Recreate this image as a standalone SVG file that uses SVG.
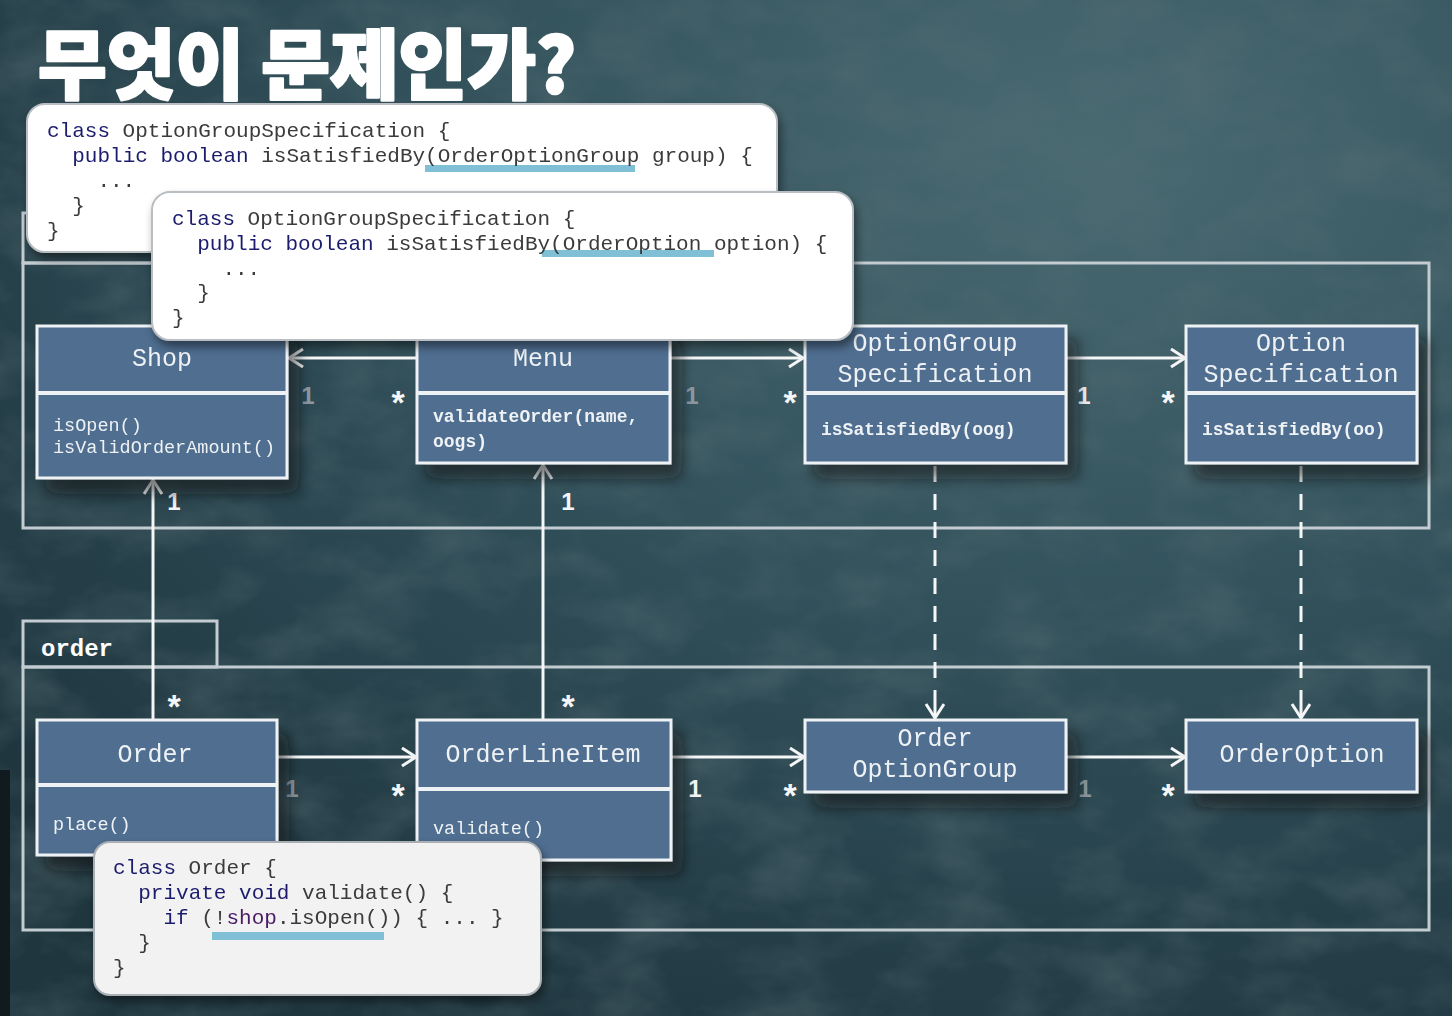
<svg xmlns="http://www.w3.org/2000/svg" width="1452" height="1016" viewBox="0 0 1452 1016">
<defs>
  <radialGradient id="bg" cx="0.75" cy="0.15" r="0.95">
    <stop offset="0" stop-color="#4a6a72"/>
    <stop offset="0.5" stop-color="#31505a"/>
    <stop offset="1" stop-color="#1f363f"/>
  </radialGradient>
  <filter id="tex" x="0" y="0" width="100%" height="100%">
    <feTurbulence type="fractalNoise" baseFrequency="0.012 0.02" numOctaves="4" seed="3"/>
    <feColorMatrix type="matrix" values="0 0 0 0 0.1  0 0 0 0 0.16  0 0 0 0 0.18  0 0 0 1.4 -0.55"/>
  </filter>
  <filter id="sh" x="-20%" y="-20%" width="150%" height="160%">
    <feDropShadow dx="10" dy="14" stdDeviation="7" flood-color="#0a1418" flood-opacity="0.55"/>
  </filter>
  <filter id="shc" x="-10%" y="-20%" width="130%" height="150%">
    <feDropShadow dx="3" dy="6" stdDeviation="5" flood-color="#000" flood-opacity="0.45"/>
  </filter>
  <marker id="arr" markerUnits="userSpaceOnUse" markerWidth="20" markerHeight="22" refX="15" refY="10" orient="auto">
    <path d="M1,1 L15,10 L1,19" fill="none" stroke="#f4f6f7" stroke-width="3" stroke-linejoin="miter"/>
  </marker>
  <style>
    .pkg{fill:none;stroke:#c3ccd1;stroke-width:3}
    .node rect.box{fill:#4f6e90;stroke:#eef2f4;stroke-width:3}
    .div{stroke:#eef2f4;stroke-width:4}
    .ttl{font-family:"Liberation Mono","DejaVu Sans Mono",monospace;font-size:25px;fill:#eef2f5;text-anchor:middle}
    .mth{font-family:"Liberation Mono","DejaVu Sans Mono",monospace;font-size:18.5px;fill:#eef2f5}
    .mb{font-weight:bold;font-size:18px}
    .con{stroke:#f4f6f7;stroke-width:3;fill:none}
    .dash{stroke-dasharray:16 12}
    .m{font-family:"Liberation Sans","DejaVu Sans",sans-serif;font-size:24px;font-weight:bold;fill:#f4f6f7;text-anchor:middle}
    .st{font-size:34px}
    .mg{fill:#8e9aa2}
    .code{font-family:"Liberation Mono","DejaVu Sans Mono",monospace;font-size:21px;fill:#3a3a3a;white-space:pre}
    .kw{fill:#1d1d6e}
    .pu{fill:#4a1a66}
    .hl{fill:#7fc0d6}
    .cbox{fill:#ffffff;stroke:#b9bec2;stroke-width:2}
  </style>
</defs>

<rect width="1452" height="1016" fill="url(#bg)"/>
<rect width="1452" height="1016" filter="url(#tex)" opacity="0.6"/>
<rect x="0" y="770" width="10" height="246" fill="#111a1e"/>

<text x="38" y="93" font-family="'Noto Sans CJK KR',sans-serif" font-weight="900" font-size="76" fill="#ffffff" stroke="#ffffff" stroke-width="2.5" stroke-linejoin="round" textLength="538" lengthAdjust="spacingAndGlyphs">무엇이 문제인가?</text>

<g id="pkg-shop">
  <rect x="23" y="213" width="194" height="50" class="pkg"/>
  <rect x="23" y="263" width="1406" height="265" class="pkg"/>
</g>
<g id="pkg-order">
  <rect x="23" y="621" width="194" height="46" class="pkg"/>
  <rect x="23" y="667" width="1406" height="263" class="pkg"/>
  <text x="41" y="656" font-family="'Liberation Mono','DejaVu Sans Mono',monospace" font-weight="bold" font-size="24" fill="#ffffff">order</text>
</g>

<g id="connectors">
  <line x1="417" y1="358" x2="289" y2="358" class="con" marker-end="url(#arr)"/>
  <line x1="670" y1="358" x2="803" y2="358" class="con" marker-end="url(#arr)"/>
  <line x1="1066" y1="358" x2="1185" y2="358" class="con" marker-end="url(#arr)"/>
  <line x1="153" y1="720" x2="153" y2="480" class="con" marker-end="url(#arr)"/>
  <line x1="543" y1="720" x2="543" y2="465" class="con" marker-end="url(#arr)"/>
  <line x1="277" y1="757" x2="416" y2="757" class="con" marker-end="url(#arr)"/>
  <line x1="671" y1="757" x2="804" y2="757" class="con" marker-end="url(#arr)"/>
  <line x1="1066" y1="757" x2="1185" y2="757" class="con" marker-end="url(#arr)"/>
  <line x1="935" y1="466" x2="935" y2="692" class="con dash"/>
  <line x1="935" y1="692" x2="935" y2="718" class="con" marker-end="url(#arr)"/>
  <line x1="1301" y1="466" x2="1301" y2="692" class="con dash"/>
  <line x1="1301" y1="692" x2="1301" y2="718" class="con" marker-end="url(#arr)"/>
  <text x="308" y="404" class="m mg">1</text>
  <text x="398" y="414" class="m st">*</text>
  <text x="692" y="404" class="m mg">1</text>
  <text x="790" y="414" class="m st">*</text>
  <text x="1084" y="404" class="m">1</text>
  <text x="1168" y="414" class="m st">*</text>
  <text x="174" y="510" class="m">1</text>
  <text x="174" y="718" class="m st">*</text>
  <text x="568" y="510" class="m">1</text>
  <text x="568" y="718" class="m st">*</text>
  <text x="292" y="797" class="m mg">1</text>
  <text x="398" y="807" class="m st">*</text>
  <text x="695" y="797" class="m">1</text>
  <text x="790" y="807" class="m st">*</text>
  <text x="1085" y="797" class="m mg">1</text>
  <text x="1168" y="807" class="m st">*</text>
</g>

<g id="node-shop" class="node" filter="url(#sh)">
  <rect class="box" x="37" y="326" width="250" height="152"/>
  <line class="div" x1="37" y1="393" x2="287" y2="393"/>
  <text class="ttl" x="162" y="366">Shop</text>
  <text class="mth" x="53" y="431">isOpen()</text>
  <text class="mth" x="53" y="453">isValidOrderAmount()</text>
</g>
<g id="node-menu" class="node" filter="url(#sh)">
  <rect class="box" x="417" y="326" width="253" height="137"/>
  <line class="div" x1="417" y1="393" x2="670" y2="393"/>
  <text class="ttl" x="543" y="366">Menu</text>
  <text class="mth mb" x="433" y="422">validateOrder(name,</text>
  <text class="mth mb" x="433" y="447">oogs)</text>
</g>
<g id="node-ogs" class="node" filter="url(#sh)">
  <rect class="box" x="805" y="326" width="261" height="137"/>
  <line class="div" x1="805" y1="393" x2="1066" y2="393"/>
  <text class="ttl" x="935" y="351">OptionGroup</text>
  <text class="ttl" x="935" y="382">Specification</text>
  <text class="mth mb" x="821" y="435">isSatisfiedBy(oog)</text>
</g>
<g id="node-os" class="node" filter="url(#sh)">
  <rect class="box" x="1186" y="326" width="231" height="137"/>
  <line class="div" x1="1186" y1="393" x2="1417" y2="393"/>
  <text class="ttl" x="1301" y="351">Option</text>
  <text class="ttl" x="1301" y="382">Specification</text>
  <text class="mth mb" x="1202" y="435">isSatisfiedBy(oo)</text>
</g>
<g id="node-order" class="node" filter="url(#sh)">
  <rect class="box" x="37" y="720" width="240" height="135"/>
  <line class="div" x1="37" y1="785" x2="277" y2="785"/>
  <text class="ttl" x="155" y="762">Order</text>
  <text class="mth" x="53" y="830" font-size="20.5">place()</text>
</g>
<g id="node-oli" class="node" filter="url(#sh)">
  <rect class="box" x="417" y="720" width="254" height="140"/>
  <line class="div" x1="417" y1="789" x2="671" y2="789"/>
  <text class="ttl" x="543" y="762">OrderLineItem</text>
  <text class="mth" x="433" y="834" font-size="20.5">validate()</text>
</g>
<g id="node-oog" class="node" filter="url(#sh)">
  <rect class="box" x="805" y="720" width="261" height="72"/>
  <text class="ttl" x="935" y="746">Order</text>
  <text class="ttl" x="935" y="777">OptionGroup</text>
</g>
<g id="node-oo" class="node" filter="url(#sh)">
  <rect class="box" x="1186" y="720" width="231" height="72"/>
  <text class="ttl" x="1302" y="762">OrderOption</text>
</g>

<g id="code-1" filter="url(#shc)">
  <rect class="cbox" x="27" y="104" width="750" height="148" rx="18"/>
  <rect class="hl" x="425" y="165" width="210" height="7"/>
  <text class="code" x="47" y="137"><tspan class="kw">class</tspan> OptionGroupSpecification {</text>
  <text class="code" x="47" y="162">  <tspan class="kw">public boolean</tspan> isSatisfiedBy(OrderOptionGroup group) {</text>
  <text class="code" x="47" y="187">    ...</text>
  <text class="code" x="47" y="212">  }</text>
  <text class="code" x="47" y="237">}</text>
</g>
<g id="code-2" filter="url(#shc)">
  <rect class="cbox" x="152" y="192" width="701" height="148" rx="18"/>
  <rect class="hl" x="542" y="250" width="172" height="7"/>
  <text class="code" x="172" y="225"><tspan class="kw">class</tspan> OptionGroupSpecification {</text>
  <text class="code" x="172" y="250">  <tspan class="kw">public boolean</tspan> isSatisfiedBy(OrderOption option) {</text>
  <text class="code" x="172" y="275">    ...</text>
  <text class="code" x="172" y="299">  }</text>
  <text class="code" x="172" y="324">}</text>
</g>
<g id="code-3" filter="url(#shc)">
  <rect x="94" y="842" width="447" height="153" rx="16" fill="#f2f2f2" stroke="#a9afb3" stroke-width="2"/>
  <rect class="hl" x="212" y="932" width="172" height="8" fill="#78b4c8"/>
  <text class="code" x="113" y="874"><tspan class="kw">class</tspan> Order {</text>
  <text class="code" x="113" y="899">  <tspan class="kw">private void</tspan> validate() {</text>
  <text class="code" x="113" y="924">    <tspan class="kw">if</tspan> (!<tspan class="pu">shop</tspan>.isOpen()) { ... }</text>
  <text class="code" x="113" y="949">  }</text>
  <text class="code" x="113" y="974">}</text>
</g>
</svg>
